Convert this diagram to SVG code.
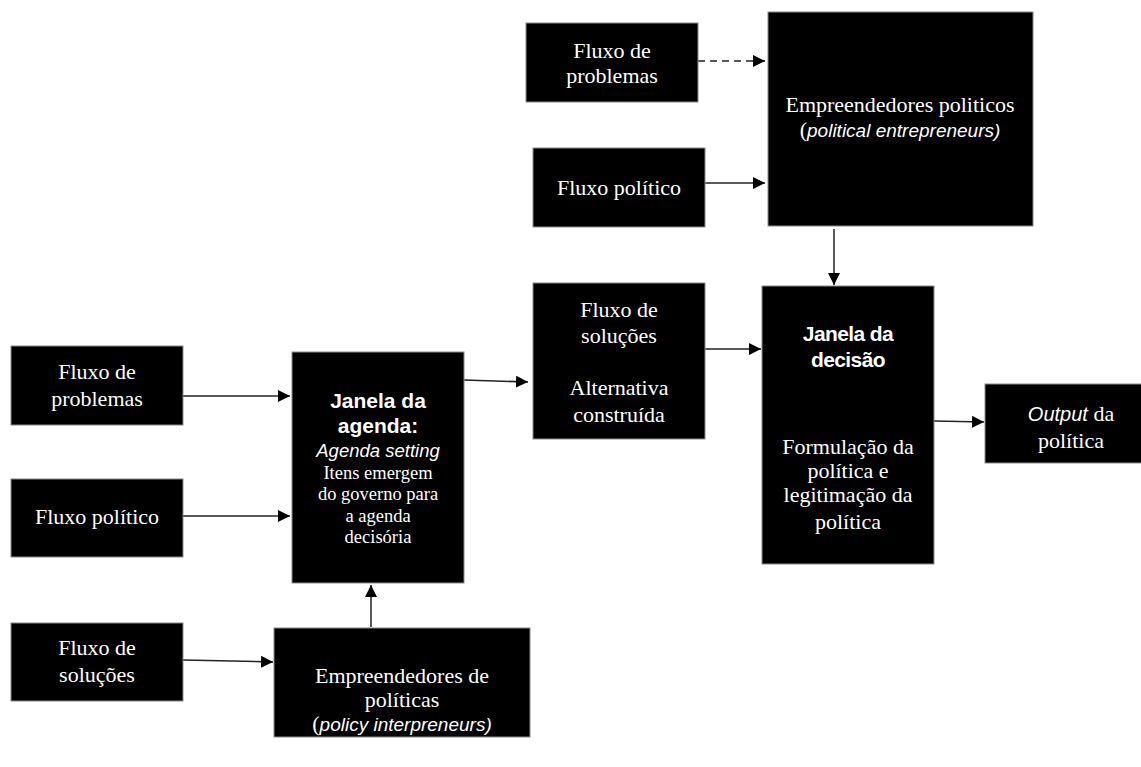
<svg xmlns="http://www.w3.org/2000/svg" width="1141" height="767" viewBox="0 0 1141 767">
<style>
.box{fill:#000;stroke:#8a8a8a;stroke-width:1}
.t{fill:#fff;font-family:"Liberation Serif","Times New Roman",serif;font-size:22px;text-anchor:middle}
.ts{fill:#fff;font-family:"Liberation Serif","Times New Roman",serif;font-size:18.5px;text-anchor:middle}
.b{fill:#fff;font-family:"Liberation Sans",Arial,sans-serif;font-weight:bold;font-size:21px;text-anchor:middle}
.i{font-family:"Liberation Sans",Arial,sans-serif;font-style:italic}
.c{fill:none;stroke:#222;stroke-width:1.5}
</style>
<defs>
<marker id="ah" markerUnits="userSpaceOnUse" markerWidth="13" markerHeight="12" refX="12" refY="6" orient="auto">
<path d="M0,0 L12,6 L0,12 z" fill="#000"/>
</marker>
</defs>
<rect width="1141" height="767" fill="#fff"/>
<g id="connectors">
<line class="c" x1="698" y1="61" x2="765" y2="61" stroke-dasharray="7,5" marker-end="url(#ah)"/>
<line class="c" x1="705" y1="183" x2="765" y2="183" marker-end="url(#ah)"/>
<line class="c" x1="834" y1="229" x2="834" y2="285" marker-end="url(#ah)"/>
<line class="c" x1="705" y1="349" x2="761" y2="349" marker-end="url(#ah)"/>
<line class="c" x1="934" y1="421" x2="984" y2="422" marker-end="url(#ah)"/>
<line class="c" x1="183" y1="396" x2="290" y2="396" marker-end="url(#ah)"/>
<line class="c" x1="183" y1="516" x2="290" y2="516" marker-end="url(#ah)"/>
<line class="c" x1="464" y1="380" x2="528" y2="382" marker-end="url(#ah)"/>
<line class="c" x1="183" y1="660" x2="273" y2="662" marker-end="url(#ah)"/>
<line class="c" x1="371" y1="627" x2="371" y2="585" marker-end="url(#ah)"/>
</g>
<g id="top-problemas">
<rect class="box" x="526" y="23" width="172" height="79"/>
<text class="t" x="612" y="58">Fluxo de</text>
<text class="t" x="612" y="83">problemas</text>
</g>
<g id="top-politico">
<rect class="box" x="533" y="148" width="172" height="79"/>
<text class="t" x="619" y="195">Fluxo político</text>
</g>
<g id="empreendedores-politicos">
<rect class="box" x="768" y="12" width="265" height="214"/>
<text class="t" x="900" y="112">Empreendedores politicos</text>
<text class="t" x="900" y="137">(<tspan class="i" font-size="19">political entrepreneurs)</tspan></text>
</g>
<g id="mid-solucoes">
<rect class="box" x="533" y="283" width="172" height="156"/>
<text class="t" x="619" y="317">Fluxo de</text>
<text class="t" x="619" y="343">soluções</text>
<text class="t" x="619" y="395">Alternativa</text>
<text class="t" x="619" y="422">construída</text>
</g>
<g id="janela-decisao">
<rect class="box" x="762" y="286" width="172" height="278"/>
<text class="b" x="848" y="341" letter-spacing="-0.6">Janela da</text>
<text class="b" x="848" y="367" letter-spacing="-0.6">decisão</text>
<text class="t" x="848" y="454">Formulação da</text>
<text class="t" x="848" y="478">política e</text>
<text class="t" x="848" y="502">legitimação da</text>
<text class="t" x="848" y="529">política</text>
</g>
<g id="output">
<rect class="box" x="985" y="384" width="160" height="79"/>
<text class="t" x="1071" y="421"><tspan class="i" font-size="20">Output</tspan> da</text>
<text class="t" x="1071" y="448">política</text>
</g>
<g id="left-problemas">
<rect class="box" x="11" y="346" width="172" height="79"/>
<text class="t" x="97" y="379">Fluxo de</text>
<text class="t" x="97" y="406">problemas</text>
</g>
<g id="left-politico">
<rect class="box" x="11" y="479" width="172" height="78"/>
<text class="t" x="97" y="524">Fluxo político</text>
</g>
<g id="left-solucoes">
<rect class="box" x="11" y="623" width="172" height="78"/>
<text class="t" x="97" y="655">Fluxo de</text>
<text class="t" x="97" y="682">soluções</text>
</g>
<g id="janela-agenda">
<rect class="box" x="292" y="352" width="172" height="231"/>
<text class="b" x="378" y="408">Janela da</text>
<text class="b" x="378" y="433">agenda:</text>
<text class="ts i" x="378" y="457" font-size="16">Agenda setting</text>
<text class="ts" x="378" y="479">Itens emergem</text>
<text class="ts" x="378" y="500">do governo para</text>
<text class="ts" x="378" y="522">a agenda</text>
<text class="ts" x="378" y="543">decisória</text>
</g>
<g id="empreendedores-politicas">
<rect class="box" x="274" y="628" width="256" height="109"/>
<text class="t" x="402" y="683">Empreendedores de</text>
<text class="t" x="402" y="707">políticas</text>
<text class="t" x="402" y="731">(<tspan class="i" font-size="19">policy interpreneurs)</tspan></text>
</g>
</svg>
